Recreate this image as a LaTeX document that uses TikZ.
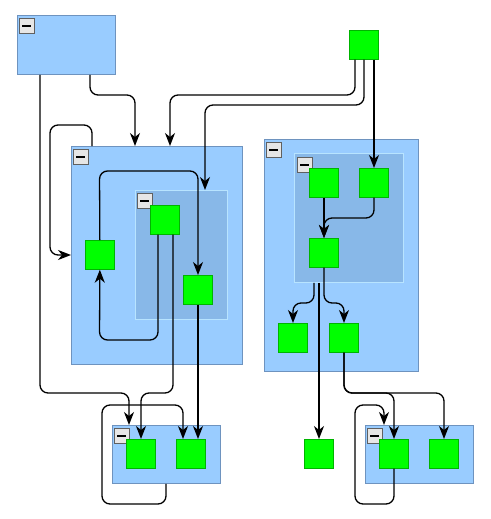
\documentclass[tikz,border=0pt]{standalone}
\usetikzlibrary{arrows.meta}
\definecolor{grpfill}{HTML}{99CCFF}
\definecolor{grpline}{HTML}{6E93BF}
\definecolor{inrfill}{HTML}{88B8E8}
\definecolor{inrline}{HTML}{B8E4FF}
\definecolor{nodegreen}{HTML}{00FF00}
\definecolor{nodeline}{HTML}{00B400}
\definecolor{iconfill}{HTML}{E6E6E6}
\definecolor{iconline}{HTML}{606060}
\begin{document}
\begin{tikzpicture}[x=1pt,y=-1pt,
  grp/.style={draw=grpline,fill=grpfill,line width=0.9pt,rectangle,inner sep=0pt,anchor=north west},
  inr/.style={draw=inrline,fill=inrfill,line width=0.9pt,rectangle,inner sep=0pt,anchor=north west},
  gn/.style={draw=nodeline,fill=nodegreen,line width=0.7pt,rectangle,inner sep=0pt,anchor=north west,minimum width=29pt,minimum height=29pt},
  icon/.style={draw=iconline,fill=iconfill,line width=0.9pt,rectangle,inner sep=0pt,anchor=north west,minimum width=15pt,minimum height=15pt,
    path picture={\fill[black] ([xshift=3pt,yshift=-1.4pt]path picture bounding box.west) rectangle ([xshift=-3pt,yshift=1.4pt]path picture bounding box.east);}},
  arr/.style={draw=black,line width=1.3pt,rounded corners=8pt,-{Stealth[length=13pt,width=10pt,inset=4pt]}},
  ln/.style={draw=black,line width=1.3pt,rounded corners=8pt}]
\useasboundingbox (0,0) rectangle (490,519);
% groups
\node[grp,minimum width=98pt,minimum height=59pt] (A) at (17,15) {};
\node[icon] (iA) at (19,18) {};
\node[grp,minimum width=171pt,minimum height=218pt] (B) at (71,146) {};
\node[icon] (iB) at (73,149) {};
\node[inr,minimum width=92pt,minimum height=129pt] (C) at (135,190) {};
\node[icon] (iC) at (137,193) {};
\node[grp,minimum width=154pt,minimum height=232pt] (D) at (264,139) {};
\node[icon] (iD) at (266,142) {};
\node[inr,minimum width=109pt,minimum height=129pt] (E) at (294,153) {};
\node[icon] (iE) at (297,157) {};
\node[grp,minimum width=108pt,minimum height=58pt] (F) at (112,425) {};
\node[icon] (iF) at (114,428) {};
\node[grp,minimum width=108pt,minimum height=58pt] (G) at (365,425) {};
\node[icon] (iG) at (367,428) {};
% green nodes
\node[gn] (g0) at (349,30) {};
\node[gn] (g1) at (85,240) {};
\node[gn] (g2) at (150,205) {};
\node[gn] (g3) at (183,275) {};
\node[gn] (e1) at (309,168) {};
\node[gn] (e2) at (359,168) {};
\node[gn] (e3) at (309,238) {};
\node[gn] (d1) at (278,323) {};
\node[gn] (d2) at (329,323) {};
\node[gn] (s) at (304,439) {};
\node[gn] (f1) at (126,439) {};
\node[gn] (f2) at (176,439) {};
\node[gn] (h1) at (379,439) {};
\node[gn] (h2) at (429,439) {};
% edges
\draw[arr] ([xshift=23pt]A.south west) -- (40,393) -- (129,393) -- ([xshift=17pt]F.north west);
\draw[arr] ([xshift=73pt]A.south west) -- (90,95) -- (135,95) -- ([xshift=64pt]B.north west);
\draw[arr] ([xshift=6pt]g0.south west) -- (355,95) -- (170,95) -- ([xshift=99pt]B.north west);
\draw[arr] ([xshift=15pt]g0.south west) -- (364,105) -- (205,105) -- ([xshift=70pt]C.north west);
\draw[arr] ([xshift=25pt]g0.south west) -- ([xshift=15pt]e2.north west);
\draw[arr] ([xshift=21pt]B.north west) -- (92,125) -- (50,125) -- (50,255) -- ([yshift=-109pt]B.north west);
\draw[arr] (g1.north) -- (99.5,171) -- (198,171) -- ([xshift=15pt]g3.north west);
\draw[arr] ([xshift=8pt]g2.south west) -- (158,340) -- (99.5,340) -- (g1.south);
\draw[arr] ([xshift=23pt]g2.south west) -- (173,393) -- (141,393) -- ([xshift=15pt]f1.north west);
\draw[arr] ([xshift=15pt]g3.south west) -- ([xshift=22pt]f2.north west);
\draw[arr] ([xshift=54pt]F.south west) -- (166,504) -- (102,504) -- (102,405) -- (183,405) -- ([xshift=7pt]f2.north west);
\draw[arr] ([xshift=15pt]e1.south west) -- ([xshift=15pt]e3.north west);
\draw[arr] ([xshift=15pt]e2.south west) -- (374,218) -- (324,218) -- ([xshift=15pt]e3.north west);
\draw[arr] ([xshift=20pt]E.south west) -- (314,303) -- (293,303) -- ([xshift=15pt]d1.north west);
\draw[arr] ([xshift=25pt]E.south west) -- ([xshift=15pt]s.north west);
\draw[arr] ([xshift=15pt]e3.south west) -- (324,303) -- (344,303) -- ([xshift=15pt]d2.north west);
\draw[arr] ([xshift=15pt]d2.south west) -- (344,393) -- (394,393) -- ([xshift=15pt]h1.north west);
\draw[arr] ([xshift=15pt]d2.south west) -- (344,393) -- (444,393) -- ([xshift=15pt]h2.north west);
\draw[arr] ([xshift=15pt]h1.south west) -- (394,504) -- (355,504) -- (355,405) -- (384,405) -- ([xshift=19pt]G.north west);
\end{tikzpicture}
\end{document}
